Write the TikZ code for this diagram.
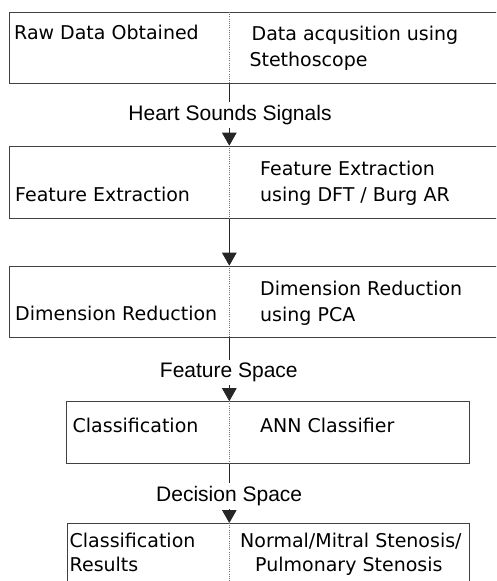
\documentclass[tikz,border=0pt]{standalone}
\usepackage{fontspec}
\usetikzlibrary{arrows.meta}
\newfontfamily\boxfont{DejaVu Sans}
\newfontfamily\lblfont{Liberation Sans}
\begin{document}
\begin{tikzpicture}[x=1pt,y=-1pt,
  stage/.style={draw=black!75,line width=1.1pt,rectangle,inner sep=0pt,anchor=north west},
  txt/.style={anchor=base west,inner sep=0pt,font=\boxfont\fontsize{19}{22}\selectfont},
  flowlbl/.style={anchor=base,inner sep=3pt,fill=white,font=\lblfont\fontsize{21}{24}\selectfont},
  divider/.style={draw=black!55,line width=0.6pt,dash pattern=on 0.8pt off 1.4pt},
  conn/.style={draw=black!85,line width=0.9pt},
  flow/.style={conn,-{Triangle[width=14.5pt,length=13pt]}}]
\clip (0,0) rectangle (496,581);
\fill[white] (0,0) rectangle (496,581);
\coordinate (dv) at (229.3,0);

% stages
\node[stage,minimum width=510pt,minimum height=70.7pt] (b1) at (9,12) {};
\node[stage,minimum width=510pt,minimum height=72pt]   (b2) at (9,145.7) {};
\node[stage,minimum width=510pt,minimum height=71pt]   (b3) at (9,265.7) {};
\node[stage,minimum width=403.3pt,minimum height=61.5pt] (b4) at (65.7,401.2) {};
\node[stage,minimum width=402.3pt,minimum height=80pt] (b5) at (66.7,523) {};

% column dividers
\foreach \b in {b1,b2,b3,b4,b5}
  \draw[divider] (\b.north -| dv) -- (\b.south -| dv);

% stage texts
\node[txt] (t1a) at (14,39.5)    {Raw Data Obtained};
\node[txt] (t1b) at (251.5,40.5) {Data acqusition using};
\node[txt] (t1c) at (249.3,66.7) {Stethoscope};

\node[txt] (t2a) at (15,201.7)   {Feature Extraction};
\node[txt] (t2b) at (260,175)    {Feature Extraction};
\node[txt] (t2c) at (260,201.7)  {using DFT / Burg AR};

\node[txt] (t3a) at (15,320.5)   {Dimension Reduction};
\node[txt] (t3b) at (260,295)    {Dimension Reduction};
\node[txt] (t3c) at (260,321.5)  {using PCA};

\node[txt] (t4a) at (72.5,432.3) {Classification};
\node[txt] (t4b) at (260,432.3)  {ANN Classifier};

\node[txt] (t5a) at (69.5,547.3) {Classification};
\node[txt] (t5b) at (69.5,571.7) {Results};
\node[txt] (t5c) at (240,547.3)  {Normal/Mitral Stenosis/};
\node[txt] (t5d) at (255,571.7)  {Pulmonary Stenosis};

% flow labels
\node[flowlbl] (l1) at (230,120.7) {Heart Sounds Signals};
\node[flowlbl] (l3) at (228.8,377.7) {Feature Space};
\node[flowlbl] (l4) at (229.2,501.7) {Decision Space};

% connectors
\draw[conn] (b1.south -| dv) -- (l1.north -| dv);
\draw[flow] (l1.south -| dv) -- (b2.north -| dv);
\draw[flow] (b2.south -| dv) -- (b3.north -| dv);
\draw[conn] (b3.south -| dv) -- (l3.north -| dv);
\draw[flow] (l3.south -| dv) -- (b4.north -| dv);
\draw[conn] (b4.south -| dv) -- (l4.north -| dv);
\draw[flow] (l4.south -| dv) -- (b5.north -| dv);
\end{tikzpicture}
\end{document}
